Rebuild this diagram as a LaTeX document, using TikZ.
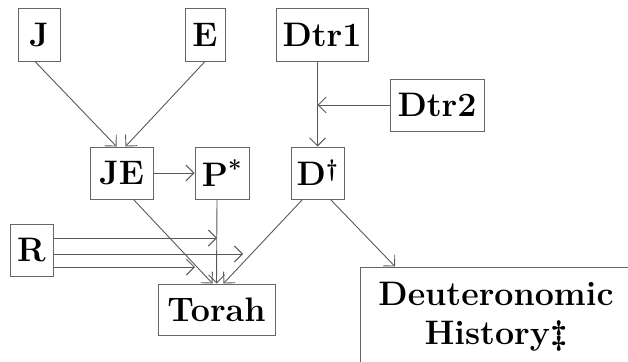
\documentclass[tikz,border=0pt]{standalone}
\usetikzlibrary{arrows.meta}
\begin{document}
\begin{tikzpicture}[x=1pt,y=-1pt,
  box/.style={draw=black!60,line width=1pt,minimum height=52pt,inner sep=0pt,
    font=\fontsize{34}{39}\selectfont\bfseries},
  conn/.style={draw=black!65,line width=0.9pt,-{Straight Barb[length=8pt,width=16pt,line width=0.9pt]}},
  seg/.style={draw=black!65,line width=0.9pt}]
\useasboundingbox (0,0) rectangle (628,361);
\node[box,minimum width=42pt] (J) at (39,35) {J};
\node[box,minimum width=40pt] (E) at (205,35) {E};
\node[box,minimum width=92pt] (Dtr1) at (322,35) {Dtr1};
\node[box,minimum width=94pt] (Dtr2) at (437,105) {Dtr2};
\node[box,minimum width=63pt] (JE) at (121.5,173) {JE};
\node[box,minimum width=54pt] (P) at (222,173) {P\textsuperscript{*}};
\node[box,minimum width=53pt] (D) at (317.5,173) {D\textsuperscript{\dag}};
\node[box,minimum width=43pt] (R) at (31.5,250) {R};
\node[box,minimum width=117pt,minimum height=51pt] (T) at (216.5,309.5) {Torah};
\node[box,minimum width=272pt,minimum height=100pt,align=center] (DH) at (496,317) {Deuteronomic\\History\ddag};
% coordinates
\coordinate (m) at (D.north |- Dtr2.west);
\coordinate (r1) at (217,238);
\coordinate (r2) at (243,254);
\coordinate (r3) at (195,267);
% connectors
\draw[conn] ([xshift=-4pt]J.south) -- ([xshift=-5pt]JE.north);
\draw[conn] (E.south) -- ([xshift=4pt]JE.north);
\draw[conn] (D.north |- Dtr1.south) -- (D.north);
\draw[conn] (Dtr2.west) -- (m);
\draw[conn] (JE.east) -- (P.west);
\draw[conn] ([xshift=12pt]JE.south) -- ([xshift=-4pt]T.north);
\draw[conn] ([xshift=-5pt]P.south) -- (T.north);
\draw[conn] ([xshift=-15pt]D.south) -- ([xshift=7pt]T.north);
\draw[conn] ([xshift=13pt]D.south) -- ([xshift=-101pt]DH.north);
\draw[conn] (R.east |- r1) -- (r1);
\draw[conn] (R.east |- r2) -- (r2);
\draw[conn] (R.east |- r3) -- (r3);
\end{tikzpicture}
\end{document}
